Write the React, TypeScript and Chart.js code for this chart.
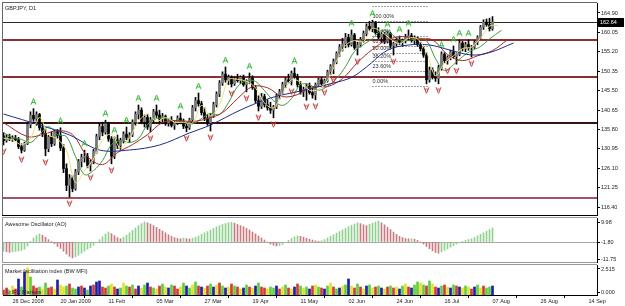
import React, { useEffect, useRef } from 'react';
import { Chart, registerables } from 'chart.js';

Chart.register(...registerables);

const FONT = '"Liberation Sans", Arial, sans-serif';

// ---------------- data ----------------
const firstBar = -3; // bar index of first bar (0 = 26 Dec 2008)
const labelBars = [0, 16, 32, 48, 64, 80, 96, 112, 128, 144, 160, 176, 192];
const dateLabels = ['26 Dec 2008', '20 Jan 2009', '11 Feb', '05 Mar', '27 Mar', '19 Apr', '11 May', '02 Jun', '24 Jun', '16 Jul', '07 Aug', '26 Aug', '14 Sep'];

const opens = [
  134.2, 133.0, 133.8, 133.4, 133.6, 133.2, 131.5, 130.6, 132.2, 137.0,
  139.3, 138.4, 139.5, 136.2, 134.8, 131.0, 133.9, 132.2, 135.2, 134.3,
  131.2, 126.0, 121.8, 123.6, 121.0, 125.2, 127.8, 128.8, 129.0, 126.8,
  127.7, 130.3, 134.0, 136.5, 135.1, 137.2, 133.4, 129.1, 133.2, 131.8,
  133.0, 134.6, 133.8, 134.4, 137.6, 139.6, 140.6, 137.8, 138.8, 136.4,
  138.2, 140.2, 139.4, 138.4, 139.0, 137.4, 138.0, 136.8, 137.6, 138.6,
  137.8, 136.6, 136.2, 138.2, 141.2, 143.0, 142.2, 140.0, 138.6, 137.4,
  139.2, 142.0, 144.6, 147.4, 149.6, 148.2, 148.8, 147.2, 148.4, 148.0,
  148.8, 147.0, 147.8, 148.6, 146.2, 143.0, 141.6, 144.0, 142.0, 141.2,
  140.6, 141.4, 144.2, 145.2, 147.0, 148.2, 147.8, 149.8, 149.0, 147.0,
  145.2, 145.8, 146.6, 145.0, 144.4, 147.0, 148.2, 147.2, 148.0, 150.2,
  151.6, 152.8, 154.8, 156.4, 157.2, 158.8, 157.0, 159.4, 156.2, 157.0,
  158.2, 159.8, 161.6, 161.0, 162.4, 160.0, 158.8, 159.6, 157.8, 159.8,
  156.8, 157.2, 158.0, 157.6, 158.0, 158.8, 159.2, 158.0, 158.6, 157.0,
  156.0, 154.4, 148.2, 150.6, 149.0, 148.6, 151.2, 154.6, 153.0, 153.8,
  155.2, 154.0, 154.6, 157.4, 156.0, 157.0, 156.2, 156.4, 157.6, 158.8,
  161.4, 162.6, 162.0, 161.0,
];
const highs = [
  135.0, 134.5, 134.6, 134.2, 134.3, 133.8, 132.2, 132.6, 137.5, 140.2,
  141.0, 140.2, 139.8, 137.5, 135.9, 134.3, 135.2, 135.6, 135.8, 136.2,
  132.0, 127.2, 124.5, 124.3, 125.8, 128.3, 129.6, 130.6, 129.8, 128.2,
  130.8, 134.6, 137.4, 137.6, 138.1, 137.6, 134.0, 133.9, 134.4, 133.6,
  135.2, 136.4, 135.0, 138.2, 140.2, 141.9, 141.2, 139.4, 139.6, 138.8,
  140.8, 141.9, 140.6, 139.8, 139.4, 138.6, 139.0, 138.0, 139.2, 139.9,
  138.4, 137.4, 138.6, 141.8, 143.8, 144.9, 142.8, 141.2, 139.6, 139.8,
  142.6, 145.2, 148.0, 150.2, 151.4, 149.4, 149.2, 149.0, 149.6, 149.2,
  149.4, 148.2, 149.9, 149.2, 146.8, 144.2, 144.8, 144.6, 143.2, 142.6,
  141.8, 144.6, 145.8, 147.6, 148.8, 149.6, 150.4, 151.2, 149.6, 147.8,
  146.4, 147.2, 147.4, 146.2, 147.4, 148.6, 148.8, 148.4, 150.6, 152.0,
  153.4, 155.2, 157.0, 158.6, 159.8, 159.6, 160.65, 159.8, 157.6, 158.8,
  160.4, 162.2, 162.8, 163.1, 162.8, 161.2, 160.2, 160.0, 160.4, 160.0,
  157.6, 158.6, 159.15, 158.4, 159.6, 160.65, 159.8, 159.2, 158.9, 157.6,
  156.6, 155.0, 151.4, 151.2, 150.2, 151.8, 155.2, 155.0, 154.2, 155.6,
  156.65, 155.0, 158.15, 157.8, 157.6, 158.15, 156.8, 158.0, 159.2, 161.8,
  163.2, 163.4, 163.6, 164.0,
];
const lows = [
  131.9, 132.6, 133.0, 132.8, 132.9, 131.0, 129.9, 130.3, 132.0, 136.2,
  137.8, 136.8, 135.6, 134.0, 129.2, 130.2, 131.5, 131.8, 133.6, 130.5,
  125.0, 120.5, 118.9, 120.2, 120.6, 124.5, 126.4, 127.6, 126.2, 125.4,
  127.2, 129.8, 133.2, 134.2, 134.6, 132.8, 127.2, 128.5, 131.0, 130.8,
  132.4, 133.2, 132.6, 134.0, 136.8, 138.4, 137.2, 136.4, 135.8, 135.2,
  137.6, 138.8, 137.6, 137.2, 136.8, 136.6, 136.4, 135.8, 137.0, 137.2,
  136.0, 135.2, 135.8, 137.8, 140.4, 141.6, 139.4, 138.0, 136.8, 135.4,
  138.8, 141.4, 144.0, 146.8, 147.6, 147.0, 146.4, 146.8, 147.6, 147.2,
  146.6, 145.2, 147.2, 145.8, 142.4, 140.4, 141.0, 141.4, 140.6, 139.8,
  138.7, 141.0, 143.4, 144.6, 146.2, 147.4, 146.9, 148.6, 146.4, 144.6,
  144.0, 143.1, 144.6, 143.6, 143.2, 146.8, 146.9, 146.65, 147.6, 149.4,
  149.7, 152.2, 154.0, 155.4, 156.2, 156.4, 156.6, 155.8, 154.4, 156.4,
  157.6, 159.2, 160.6, 160.2, 159.6, 158.4, 157.6, 157.2, 157.4, 156.2,
  154.4, 156.6, 157.0, 156.6, 157.4, 158.0, 157.6, 157.2, 156.6, 155.4,
  153.8, 147.2, 147.6, 148.4, 147.8, 147.2, 150.6, 152.4, 152.1, 153.2,
  153.6, 152.1, 154.2, 155.4, 155.2, 155.6, 153.9, 156.0, 157.0, 158.4,
  160.8, 161.6, 160.4, 160.6,
];
const closes = [
  133.0, 133.8, 133.4, 133.6, 133.2, 131.5, 130.6, 132.2, 137.0, 139.3,
  138.4, 139.5, 136.2, 134.8, 131.0, 133.9, 132.2, 135.2, 134.3, 131.2,
  126.0, 121.8, 123.6, 121.0, 125.2, 127.8, 128.8, 129.0, 126.8, 127.7,
  130.3, 134.0, 136.5, 135.1, 137.2, 133.4, 129.1, 133.2, 131.8, 133.0,
  134.6, 133.8, 134.4, 137.6, 139.6, 140.6, 137.8, 138.8, 136.4, 138.2,
  140.2, 139.4, 138.4, 139.0, 137.4, 138.0, 136.8, 137.6, 138.6, 137.8,
  136.6, 136.2, 138.2, 141.2, 143.0, 142.2, 140.0, 138.6, 137.4, 139.2,
  142.0, 144.6, 147.4, 149.6, 148.2, 148.8, 147.2, 148.4, 148.0, 148.8,
  147.0, 147.8, 148.6, 146.2, 143.0, 141.6, 144.0, 142.0, 141.2, 140.6,
  141.4, 144.2, 145.2, 147.0, 148.2, 147.8, 149.8, 149.0, 147.0, 145.2,
  145.8, 146.6, 145.0, 144.4, 147.0, 148.2, 147.2, 148.0, 150.2, 151.6,
  152.8, 154.8, 156.4, 157.2, 158.8, 157.0, 159.4, 156.2, 157.0, 158.2,
  159.8, 161.6, 161.0, 162.4, 160.0, 158.8, 159.6, 157.8, 159.8, 156.8,
  157.2, 158.0, 157.6, 158.0, 158.8, 159.2, 158.0, 158.6, 157.0, 156.0,
  154.4, 148.2, 150.6, 149.0, 148.6, 151.2, 154.6, 153.0, 153.8, 155.2,
  154.0, 154.6, 157.4, 156.0, 157.0, 156.2, 156.4, 157.6, 158.8, 161.4,
  162.6, 162.0, 161.0, 162.64,
];

const priceTicks = [164.9, 160.05, 155.2, 150.35, 145.5, 140.65, 135.8, 130.95, 126.1, 121.25, 116.4];
const lastPrice = 162.64;
const levelValues = [162.64, 158.15, 148.9, 137.4, 118.65];

const fibValues = [166.74, 162.9, 159.07, 156.69, 154.78, 152.86, 150.49, 146.65];
const fibLabels = ['', '100.00%', '76.40%', '61.80%', '50.00%', '38.20%', '23.60%', '0.00%'];
const fibFrom = 120;
const fibTo = 138.5;

const fractalUp = [7, 16, 24, 31, 34, 38, 42, 48, 56, 62, 71, 79, 94, 113, 120, 125, 129, 132, 143, 147, 149, 152];
const fractalDown = [-3, 3, 11, 19, 26, 33, 46, 58, 66, 73, 78, 82, 87, 93, 98, 101, 104, 107, 115, 127, 138, 142, 145, 148, 153];

// Alligator + extra MA (at sparse points)
const jawBars = [-3, 9, 19, 29, 39, 49, 59, 66, 76, 86, 96, 107, 113, 118, 125, 132, 139, 146, 153, 159, 167];
const jawValues = [139.65, 136.9, 134.4, 130.65, 130.65, 131.9, 134.9, 136.9, 140.65, 143.65, 145.4, 147.4, 148.8, 151.4, 155.6, 156.9, 156.9, 155.6, 154.4, 155.0, 157.4];
const teethBars = [-3, 5, 10, 15, 20, 25, 30, 35, 40, 45, 50, 55, 60, 65, 70, 75, 80, 85, 90, 95, 100, 105, 110, 115, 120, 125, 130, 135, 140, 145, 150, 155, 160, 165];
const teethValues = [137.5, 134, 134.5, 135.5, 134.5, 129, 127, 130, 132, 134.5, 137.5, 138, 137.8, 138.5, 140, 143.5, 146.5, 146.2, 144, 144.5, 146.5, 146.5, 148.5, 152.5, 155.8, 158.2, 159, 158.4, 158.2, 154.5, 153, 154.2, 155.5, 158.2];
const lipsBars = [-3, 0, 3, 6, 9, 12, 15, 18, 21, 24, 27, 30, 33, 36, 39, 42, 45, 48, 51, 54, 57, 60, 63, 66, 69, 72, 75, 78, 81, 84, 87, 90, 93, 96, 99, 102, 105, 108, 111, 114, 117, 120, 123, 126, 129, 132, 135, 138, 141, 144, 147, 150, 153, 156, 159, 163];
const lipsValues = [135, 133.8, 133.3, 132.5, 134.5, 136.5, 134.5, 134, 129, 124.5, 125.5, 128, 132, 133, 132.5, 133.5, 137, 138.5, 138.5, 138, 137.5, 137.2, 138.5, 139.8, 139.5, 142.5, 146.5, 148, 147.8, 145.5, 143, 141.8, 143.5, 147, 147, 145.6, 146.6, 148.5, 151.5, 155.3, 157, 158.5, 160.5, 159.8, 158.2, 158, 158.6, 158, 153.5, 150.5, 152, 154, 155.5, 156.5, 158.4, 160.6];
const fastBars = [-3, 0, 3, 6, 9, 12, 15, 18, 21, 24, 27, 30, 33, 36, 39, 42, 45, 48, 51, 54, 57, 60, 63, 66, 69, 72, 75, 78, 81, 84, 87, 90, 93, 96, 99, 102, 105, 108, 111, 114, 117, 120, 123, 126, 129, 132, 135, 138, 141, 144, 147, 150, 153, 156, 159, 162];
const fastValues = [133.6, 133.2, 132.0, 133.5, 138.8, 134.5, 133.4, 130.5, 122.5, 125.5, 128.4, 133.2, 134.6, 131.2, 133.6, 137.8, 139.6, 137.8, 138.8, 137.6, 137.6, 137.4, 141.8, 139.2, 142.0, 148.2, 148.3, 147.8, 146.2, 142.4, 141.2, 144.8, 148.2, 147.6, 145.6, 145.8, 148.0, 152.8, 156.8, 158.0, 157.8, 161.0, 160.2, 158.4, 157.2, 158.6, 158.4, 155.2, 149.2, 152.4, 154.2, 156.0, 156.4, 158.6, 161.6, 161.8];

const aoValues = [
  -4.6, -4.9, -5.2, -5.0, -4.7, -4.5, -4.2, -3.6,
  -2.0, 0.2, 2.0, 3.2, 4.0,
  3.4, 2.4, 1.2, 0.3,
  -0.8, -2.2, -3.2, -4.6, -6.0, -7.2, -8.0,
  -7.4, -6.6, -5.6, -4.6, -3.6, -2.8, -1.6, -0.4,
  1.2, 2.6, 4.0, 5.0,
  4.2, 3.2, 2.2, 1.6,
  2.4, 3.4, 4.6, 5.8, 7.0, 8.2, 9.2, 10.0,
  9.6, 9.0, 8.2, 7.3, 6.4, 5.5, 4.6, 3.6, 2.8, 2.2,
  1.8, 1.6, 1.9, 1.7, 1.5, 1.8, 2.4,
  3.0, 3.8, 4.6, 5.2, 6.0, 6.8, 7.6, 8.2, 8.8, 9.2, 9.6, 9.8,
  9.4, 8.8, 8.2, 7.6, 6.8, 6.0, 5.0, 4.0, 3.0, 2.0, 1.0, 0.0, -1.0,
  -1.6, -2.0, -1.8, -1.2, -0.2,
  0.8, 1.8, 2.6, 3.0, 2.8,
  2.4, 1.9, 1.4, 1.0, 0.6, 0.4, 0.6,
  1.2, 2.0, 2.8, 3.6, 4.4, 5.2, 6.0, 6.8, 7.6, 8.4, 9.0, 9.6,
  9.2, 8.6, 8.2,
  8.8, 9.4, 10.0, 10.4,
  9.6, 8.6, 7.4, 6.2, 5.0, 3.8, 2.8,
  2.2, 1.8, 1.6, 1.7, 1.4,
  0.8, 0.0, -1.0, -2.2, -3.4, -4.4, -5.2, -5.6,
  -5.0, -4.2, -3.4, -2.6, -1.8, -1.0, -0.4, 0.2, 0.8, 1.2, 1.6,
  2.2, 3.0, 3.8, 4.6, 5.4, 6.2, 7.0,
];
const aoTicks = [10, 0, -8.5];
const aoTickLabels = ['9.98', '-1.80', '-11.75'];

const mfiValues = [
  0.5, 0.7, 0.4, 0.9, 0.6, 1.6, 0.8, 2.3, 2.7, 1.8, 0.9, 0.7, 0.8, 0.6,
  1.2, 0.7, 0.8, 0.6, 1.5, 1.0, 0.8, 0.9, 1.1, 0.7,
  0.6, 0.8, 0.9, 0.7, 0.5, 0.9, 1.0, 1.3, 1.4, 0.8,
  0.7, 0.9, 1.1, 0.8, 0.6, 0.7, 1.2, 0.9, 0.8, 1.0,
  0.6, 0.9, 0.7, 1.0, 1.2, 0.8, 0.7, 0.6, 0.9, 1.1,
  0.8, 0.7, 1.0, 0.9, 0.6, 0.8, 1.2, 0.9, 0.7, 1.0,
  1.3, 0.9, 0.8, 0.7, 0.9, 1.1, 0.8, 1.0, 1.2, 0.9,
  0.7, 0.8, 1.1, 0.9, 0.8, 0.6, 0.7, 1.0, 0.8, 0.7,
  0.9, 1.2, 0.8, 0.7, 0.6, 0.8, 0.7, 0.9, 0.6, 0.8,
  1.0, 0.7, 0.6, 0.8, 1.1, 0.9, 0.7, 0.8, 0.6, 0.9,
  1.0, 0.8, 0.7, 0.6, 0.9, 1.2, 0.8, 0.6, 0.7, 0.9,
  1.0, 1.6, 0.9, 0.7, 1.1, 0.8, 0.6, 0.9, 1.0, 0.7,
  0.8, 0.9, 0.7, 0.6, 0.8, 0.9, 0.7, 0.8, 0.6, 0.9,
  1.1, 0.8, 0.7, 1.0, 1.3, 1.2, 1.0, 0.9, 1.4, 1.1,
  0.8, 0.7, 0.9, 1.0, 0.8, 0.7, 1.0, 0.9, 0.8, 0.7,
  0.9, 0.8, 0.6, 0.8, 1.0, 0.7, 0.9, 0.7, 0.8, 0.9,
];
const mfiKinds =
  'rrgyrbgbygrrgy' + 'grrybyygrg' + 'gbrbgbrbbr' + 'rgyrbgygrg' + 'rbygbrgyrg' +
  'ybgrrygbgy' + 'grbyrgbyrg' + 'byrgrybgry' + 'bgrryggbry' + 'grybrgygbr' +
  'ygrbgyrgby' + 'gbyrgrybgy' + 'rgbyrgrybg' + 'yrbggygrgy' + 'rbgrybgrby' + 'gyrbgyrggb';
const mfiTicks = [2.6, 0.3];
const mfiTickLabels = ['2.515', '0.000'];

// ---------------- styles ----------------
const X_MIN = -3 - 1 / 6;
const X_MAX = X_MIN + 198;
const levelColors = ['#2a2a2a', '#8e2f2f', '#8e2f2f', '#3a1010', '#a05466'];
const levelWidths = [1, 2, 2, 2, 2];
const mfiColorMap: Record<string, string> = { g: '#5fcf3f', r: '#d23a3a', b: '#1e1ea8', y: '#e6df2e' };
const TXT = '#222';

function makeArrow(up: boolean, color: string) {
  const c = document.createElement('canvas');
  c.width = 7;
  c.height = 21;
  const g = c.getContext('2d')!;
  g.strokeStyle = color;
  g.lineWidth = 1;
  g.beginPath();
  if (up) {
    g.moveTo(1, 6.5); g.lineTo(3.5, 0.5); g.lineTo(6, 6.5);
    g.moveTo(2, 4.5); g.lineTo(5, 4.5);
  } else {
    const o = 14;
    g.moveTo(1, o); g.lineTo(3.5, o + 6); g.lineTo(6, o);
    g.moveTo(2, o + 2); g.lineTo(5, o + 2);
  }
  g.stroke();
  return c;
}

function xScale(display: boolean) {
  return {
    type: 'linear', min: X_MIN, max: X_MAX, offset: false, display,
    grid: { display: false },
  };
}

function yScale(min: number, max: number, vals: number[], labels: string[]) {
  return {
    type: 'linear', position: 'right', min, max,
    afterBuildTicks: (s: any) => { s.ticks = vals.map((v) => ({ value: v })); },
    afterFit: (s: any) => { s.width = 28; s.paddingTop = 0; s.paddingBottom = 0; },
    ticks: {
      autoSkip: false, padding: 1, color: TXT,
      font: { family: FONT, size: 5.5 },
      callback: (_v: any, i: number) => labels[i],
    },
    grid: { drawOnChartArea: false, tickLength: 3, color: '#000' },
    border: { display: true, color: '#000' },
  };
}

const baseOptions = {
  animation: false, responsive: false, devicePixelRatio: 1, events: [],
  plugins: { legend: { display: false }, tooltip: { enabled: false } },
};

function text(ctx: any, s: string, x: number, y: number, color = TXT) {
  ctx.save();
  ctx.font = `5.5px ${FONT}`;
  ctx.fillStyle = color;
  ctx.textBaseline = 'middle';
  ctx.textAlign = 'left';
  ctx.fillText(s, x, y);
  ctx.restore();
}

export default function App() {
  const r1 = useRef<HTMLCanvasElement>(null);
  const r2 = useRef<HTMLCanvasElement>(null);
  const r3 = useRef<HTMLCanvasElement>(null);

  useEffect(() => {
    const upImg = makeArrow(true, '#2fb52f');
    const downImg = makeArrow(false, '#c23a3a');
    const bars = opens.map((_, k) => firstBar + k);

    const pricePlugin = {
      id: 'pricePanel',
      beforeDatasetsDraw(chart: any) {
        const { ctx, chartArea: a, scales } = chart;
        const x = scales.x, y = scales.y;
        ctx.save();
        ctx.beginPath();
        ctx.rect(a.left, a.top, a.right - a.left, a.bottom - a.top);
        ctx.clip();
        levelValues.forEach((v, k) => {
          const w = levelWidths[k];
          const py = Math.round(y.getPixelForValue(v)) + (w % 2 ? 0.5 : 0);
          ctx.strokeStyle = levelColors[k];
          ctx.lineWidth = w;
          ctx.beginPath();
          ctx.moveTo(a.left, py);
          ctx.lineTo(a.right, py);
          ctx.stroke();
        });
        const fx0 = x.getPixelForValue(fibFrom);
        const fx1 = x.getPixelForValue(fibTo);
        ctx.setLineDash([1, 2]);
        ctx.strokeStyle = '#444';
        ctx.lineWidth = 1;
        fibValues.forEach((v) => {
          const py = Math.round(y.getPixelForValue(v)) + 0.5;
          ctx.beginPath();
          ctx.moveTo(fx0, py);
          ctx.lineTo(fx1, py);
          ctx.stroke();
        });
        ctx.setLineDash([]);
        fibValues.forEach((v, k) => {
          if (!fibLabels[k]) return;
          const py = y.getPixelForValue(v);
          text(ctx, fibLabels[k], fx0, py - 4.5, '#333');
        });
        ctx.restore();
      },
      afterDraw(chart: any) {
        const { ctx, chartArea: a, scales } = chart;
        ctx.save();
        ctx.fillStyle = '#666';
        ctx.fillRect(a.left - 1, a.top - 1, a.right - a.left + 1, 1);
        ctx.fillRect(a.left - 1, a.top - 1, 1, a.bottom - a.top + 1);
        ctx.fillStyle = '#000';
        ctx.fillRect(a.left - 1, a.bottom, a.right - a.left + 1, 1);
        ctx.restore();
        text(ctx, 'GBPJPY, D1', a.left + 2, a.top + 5);
        const py = Math.round(scales.y.getPixelForValue(lastPrice));
        ctx.save();
        ctx.fillStyle = '#000';
        ctx.fillRect(a.right + 1, py - 4, 26, 9);
        ctx.restore();
        text(ctx, lastPrice.toFixed(2), a.right + 3, py + 0.5, '#fff');
      },
    };

    const lineDs = (xs: number[], ys: number[], color: string) => ({
      type: 'line',
      data: xs.map((v, k) => ({ x: v, y: ys[k] })),
      borderColor: color, borderWidth: 1, pointRadius: 0, tension: 0.35,
      order: 2,
    });

    const c1 = new Chart(r1.current as any, {
      type: 'bar',
      data: {
        datasets: [
          {
            type: 'bar', grouped: false, order: 4,
            data: bars.map((b, k) => ({ x: b, y: [lows[k], highs[k]] })),
            backgroundColor: '#000', barThickness: 1,
          },
          {
            type: 'bar', grouped: false, order: 3,
            data: bars.map((b, k) => ({ x: b, y: [opens[k], closes[k]] })),
            backgroundColor: bars.map((_, k) => (closes[k] >= opens[k] ? '#7a7a7a' : '#000')),
            barThickness: 2,
          },
          lineDs(fastBars, fastValues, '#e8e27a'),
          lineDs(jawBars, jawValues, '#1f2a8c'),
          lineDs(teethBars, teethValues, '#a3282c'),
          lineDs(lipsBars, lipsValues, '#3f9a3f'),
          {
            type: 'line', showLine: false, order: 0,
            data: fractalUp.map((b) => ({ x: b, y: highs[b - firstBar] })),
            pointStyle: upImg, pointRadius: 3,
          },
          {
            type: 'line', showLine: false, order: 0,
            data: fractalDown.map((b) => ({ x: b, y: lows[b - firstBar] })),
            pointStyle: downImg, pointRadius: 3,
          },
        ],
      },
      options: {
        ...baseOptions,
        layout: { autoPadding: false, padding: { left: 3, top: 3, right: 0, bottom: 1 } },
        scales: {
          x: xScale(false),
          y: yScale(114.4, 167.4, priceTicks, priceTicks.map((v) => v.toFixed(2))),
        },
      },
      plugins: [pricePlugin],
    } as any);

    const aoPlugin = {
      id: 'aoPanel',
      beforeDatasetsDraw(chart: any) {
        const { ctx, chartArea: a, scales } = chart;
        const py = Math.round(scales.y.getPixelForValue(0)) + 0.5;
        ctx.save();
        ctx.strokeStyle = '#a8a8a8';
        ctx.lineWidth = 1;
        ctx.beginPath();
        ctx.moveTo(a.left, py);
        ctx.lineTo(a.right, py);
        ctx.stroke();
        ctx.restore();
      },
      afterDraw(chart: any) {
        const { ctx, chartArea: a } = chart;
        ctx.save();
        ctx.fillStyle = '#999';
        ctx.fillRect(a.left - 1, a.top - 1, a.right - a.left + 1, 1);
        ctx.fillRect(a.left - 1, a.top - 1, 1, a.bottom - a.top + 1);
        ctx.fillRect(a.left - 1, a.bottom, a.right - a.left + 1, 1);
        ctx.restore();
        text(ctx, 'Awesome Oscillator (AO)', a.left + 2, a.top + 6);
      },
    };

    const c2 = new Chart(r2.current as any, {
      type: 'bar',
      data: {
        datasets: [
          {
            type: 'bar', grouped: false,
            data: aoValues.map((v, k) => ({ x: firstBar + k, y: v })),
            backgroundColor: aoValues.map((v, k) => (k > 0 && v < aoValues[k - 1] ? '#c87b7f' : '#8fd08f')),
            barThickness: 1,
          },
        ],
      },
      options: {
        ...baseOptions,
        layout: { autoPadding: false, padding: { left: 3, top: 2, right: 0, bottom: 1 } },
        scales: {
          x: xScale(false),
          y: yScale(-10, 12, aoTicks, aoTickLabels),
        },
      },
      plugins: [aoPlugin],
    } as any);

    const mfiPlugin = {
      id: 'mfiPanel',
      afterDraw(chart: any) {
        const { ctx, chartArea: a } = chart;
        ctx.save();
        ctx.fillStyle = '#999';
        ctx.fillRect(a.left - 1, a.top - 1, a.right - a.left + 1, 1);
        ctx.fillRect(a.left - 1, a.top - 1, 1, a.bottom - a.top + 1);
        ctx.restore();
        text(ctx, 'Market facilitation index (BW MFI)', a.left + 2, a.top + 6);
        text(ctx, '\u00A9 IFC Markets', a.left + 3, a.top + 27);
      },
    };

    const xAxis3 = {
      type: 'linear', min: X_MIN, max: X_MAX, offset: false, position: 'bottom',
      afterBuildTicks: (s: any) => { s.ticks = labelBars.map((v) => ({ value: v })); },
      afterFit: (s: any) => { s.height = 11; s.paddingLeft = 0; s.paddingRight = 0; },
      ticks: {
        autoSkip: false, maxRotation: 0, minRotation: 0, align: 'start', padding: 0,
        color: TXT, font: { family: FONT, size: 5.5 },
        callback: (_v: any, i: number) => dateLabels[i],
      },
      grid: { drawOnChartArea: false, tickLength: 3, color: '#000' },
      border: { display: true, color: '#000' },
    };

    const c3 = new Chart(r3.current as any, {
      type: 'bar',
      data: {
        datasets: [
          {
            type: 'bar', grouped: false,
            data: mfiValues.map((v, k) => ({ x: firstBar + k, y: v })),
            backgroundColor: mfiValues.map((_, k) => mfiColorMap[mfiKinds[k]] || '#5fcf3f'),
            barThickness: 2,
          },
        ],
      },
      options: {
        ...baseOptions,
        layout: { autoPadding: false, padding: { left: 3, top: 2, right: 0, bottom: 0 } },
        scales: {
          x: xAxis3,
          y: yScale(0, 3, mfiTicks, mfiTickLabels),
        },
      },
      plugins: [mfiPlugin],
    } as any);

    return () => {
      c1.destroy();
      c2.destroy();
      c3.destroy();
    };
  }, []);

  return (
    <div style={{ position: 'fixed', left: 0, top: 0, width: 625, height: 306, background: '#fff', overflow: 'hidden' }}>
      <canvas ref={r1} width={625} height={216} style={{ position: 'absolute', left: 0, top: 0 }} />
      <canvas ref={r2} width={625} height={47} style={{ position: 'absolute', left: 0, top: 216 }} />
      <canvas ref={r3} width={625} height={43} style={{ position: 'absolute', left: 0, top: 263 }} />
    </div>
  );
}
